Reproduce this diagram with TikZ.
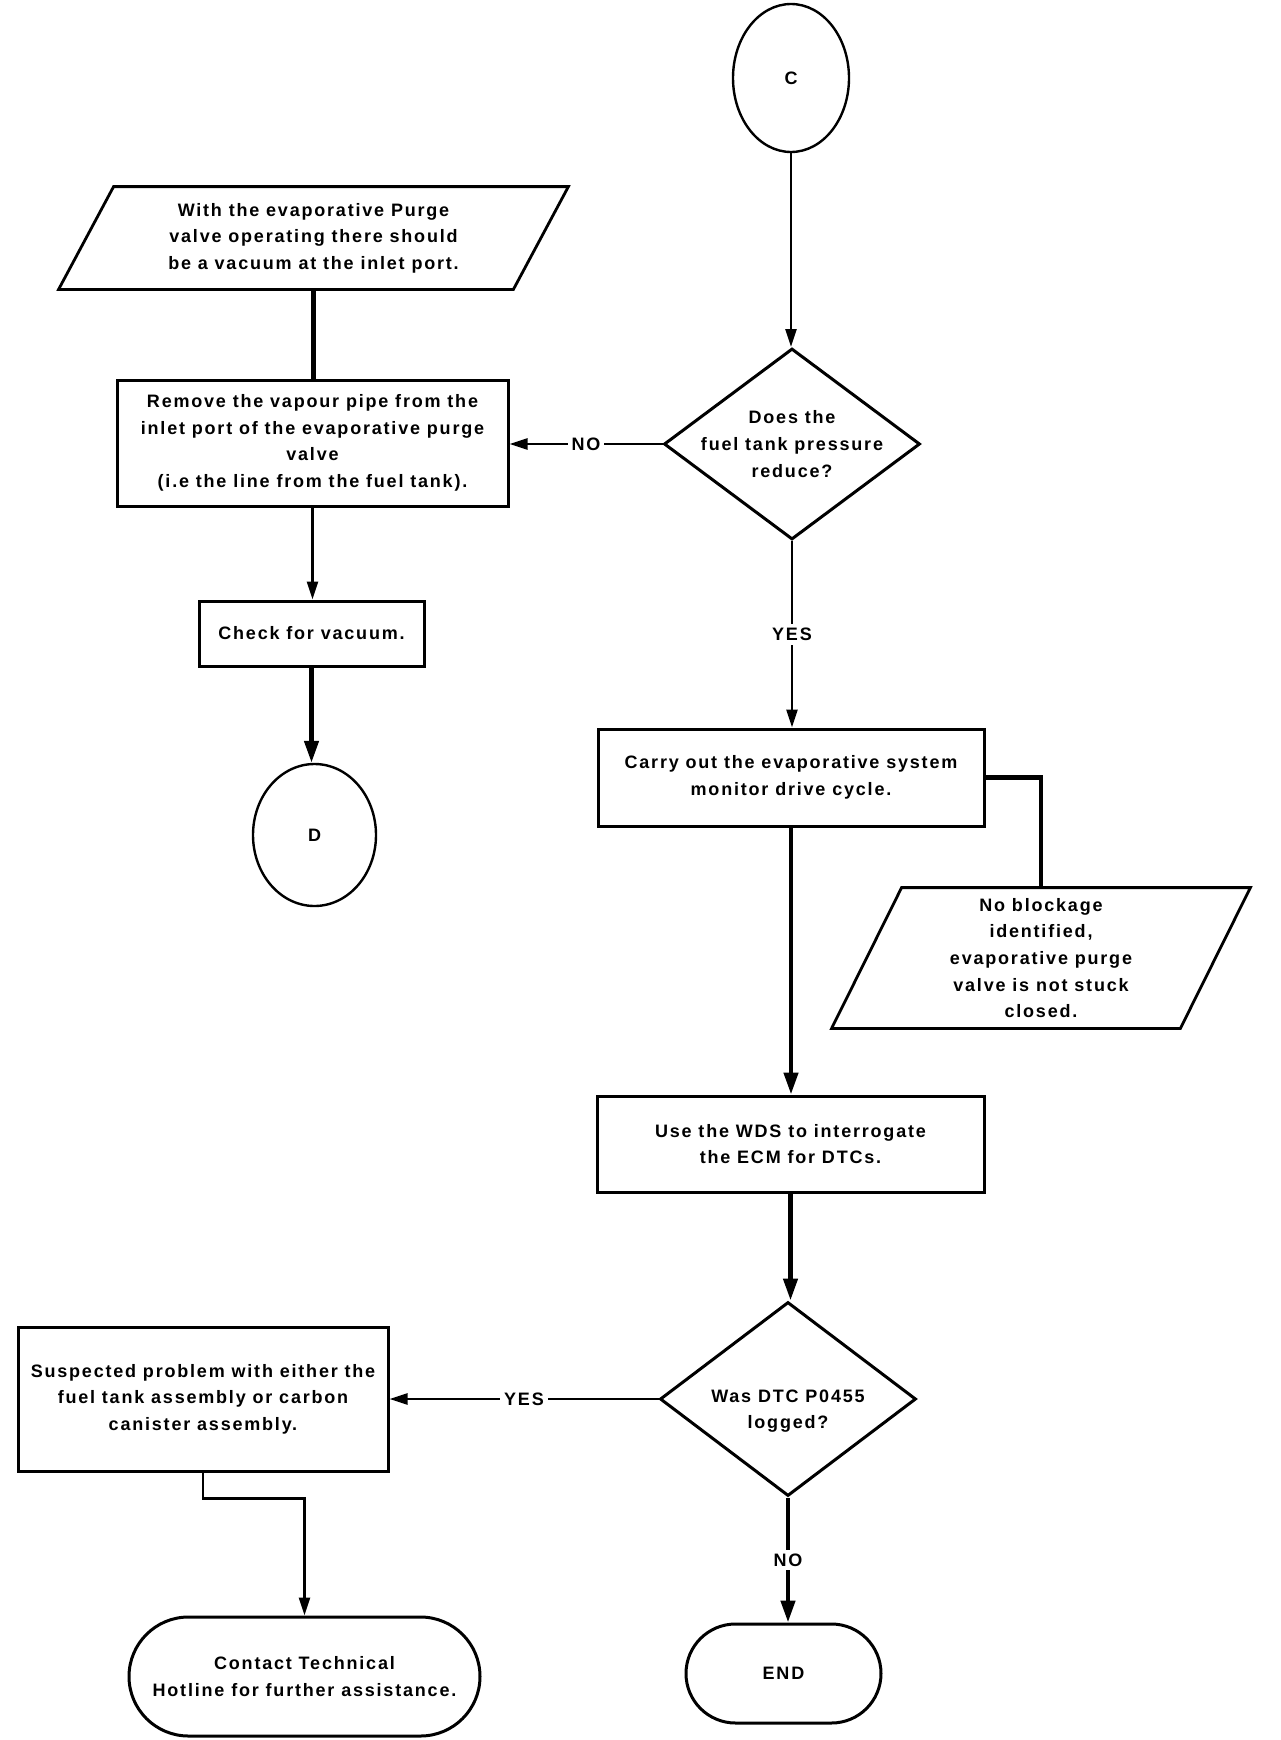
\documentclass[tikz,border=0pt]{standalone}
\usepackage{fontspec}
\setmainfont{Liberation Sans}[LetterSpace=10]
\usetikzlibrary{shapes.geometric,shapes.misc,arrows.meta}
\newcommand\dfont{\fontsize{9}{13.3}\selectfont\bfseries}
\begin{document}
\begin{tikzpicture}[x=0.5pt,y=-0.5pt,
  every node/.style={font=\dfont, align=center, inner sep=0pt},
  box/.style={draw, rectangle, line width=1.5pt},
  para/.style={rectangle},
  paraline/.style={line width=1.4pt, line join=miter},
  oval/.style={draw, ellipse, line width=1.2pt},
  term/.style={draw, rounded rectangle, line width=1.5pt},
  dia/.style={draw, diamond, line width=1.5pt},
  thinarr/.style={line width=1.2pt, -{Triangle[length=9pt,width=5.5pt]}},
  thickarr/.style={line width=2.2pt, -{Triangle[length=11pt,width=7pt]}},
  thinline/.style={line width=1.2pt},
  thickline/.style={line width=2.2pt},
  lbl/.style={fill=white, inner sep=2pt}
]
\useasboundingbox (0,0) rectangle (1280,1740);
\fill[white] (0,0) rectangle (1280,1740);

% left column
\node[para, minimum width=227pt, minimum height=51pt] (p1) at (313.5,238)
  {With the evaporative Purge\\valve operating there should\\be a vacuum at the inlet port.};
\draw[paraline] ([xshift=13.75pt]p1.north west) -- ([xshift=13.75pt]p1.north east)
  -- ([xshift=-13.75pt]p1.south east) -- ([xshift=-13.75pt]p1.south west) -- cycle;

\node[box, minimum width=195.5pt, minimum height=63pt] (b1) at (312.5,443)
  {Remove the vapour pipe from the\\inlet port of the evaporative purge\\valve\\(i.e the line from the fuel tank).};
\node[box, minimum width=112.5pt, minimum height=32.5pt] (chk) at (311.5,633.5) {Check for vacuum.};
\node[oval, minimum width=61.5pt, minimum height=71pt] (D) at (314.5,835) {D};

% right column
\node[oval, minimum width=58pt, minimum height=74pt] (C) at (791,78) {C};
\node[dia, minimum width=128pt, minimum height=95.5pt] (d1) at (792,444) {};
\node (d1t) at (792,444) {Does the\\fuel tank pressure\\reduce?};
\node[box, minimum width=193pt, minimum height=48.5pt] (b2) at (791,777.5)
  {Carry out the evaporative system\\monitor drive cycle.};
\node[para, minimum width=174pt, minimum height=70pt] (p2) at (1041,958)
  {No blockage\\identified,\\evaporative purge\\valve is not stuck\\closed.};
\draw[paraline] ([xshift=17.5pt]p2.north west) -- ([xshift=17.5pt]p2.north east)
  -- ([xshift=-17.5pt]p2.south east) -- ([xshift=-17.5pt]p2.south west) -- cycle;
\node[box, minimum width=193.5pt, minimum height=48pt] (b3) at (790.5,1144)
  {Use the WDS to interrogate\\the ECM for DTCs.};
\node[dia, minimum width=128pt, minimum height=97pt] (d2) at (788,1399) {};
\node (d2t) at (788,1411) {Was DTC P0455\\logged?};
\node[box, minimum width=185pt, minimum height=72pt] (b4) at (203,1399)
  {Suspected problem with either the\\fuel tank assembly or carbon\\canister assembly.};
\node[term, minimum width=175.5pt, minimum height=59.5pt] (t1) at (304.5,1676.5)
  {Contact Technical\\Hotline for further assistance.};
\node[term, minimum width=97.5pt, minimum height=49.5pt] (END) at (783.5,1673.5) {END};

% connectors
\draw[thickline] (p1.south) -- (p1.south |- b1.north);
\draw[thinarr] (b1.south) -- (b1.south |- chk.north);
\draw[thickarr] (chk.south) -- (chk.south |- D.north);
\draw[thinarr] (C.south) -- (C.south |- d1.north);
\draw[thinarr] (d1.west) -- node[lbl] {NO} (b1.east |- d1.west);
\draw[thinarr] (d1.south) -- node[lbl] {YES} (d1.south |- b2.north);
\draw[thickline] (b2.east) -| (p2.north);
\draw[thickarr] (b2.south) -- (b2.south |- b3.north);
\draw[thickarr] (b3.south) -- (b3.south |- d2.north);
\draw[thinarr] (d2.west) -- node[lbl] {YES} (b4.east |- d2.west);
\draw[thickarr] (d2.south) -- node[lbl] {NO} (d2.south |- END.north);
\draw[thinarr] (b4.south) -- ++(0,26) -| (t1.north);
\end{tikzpicture}
\end{document}
